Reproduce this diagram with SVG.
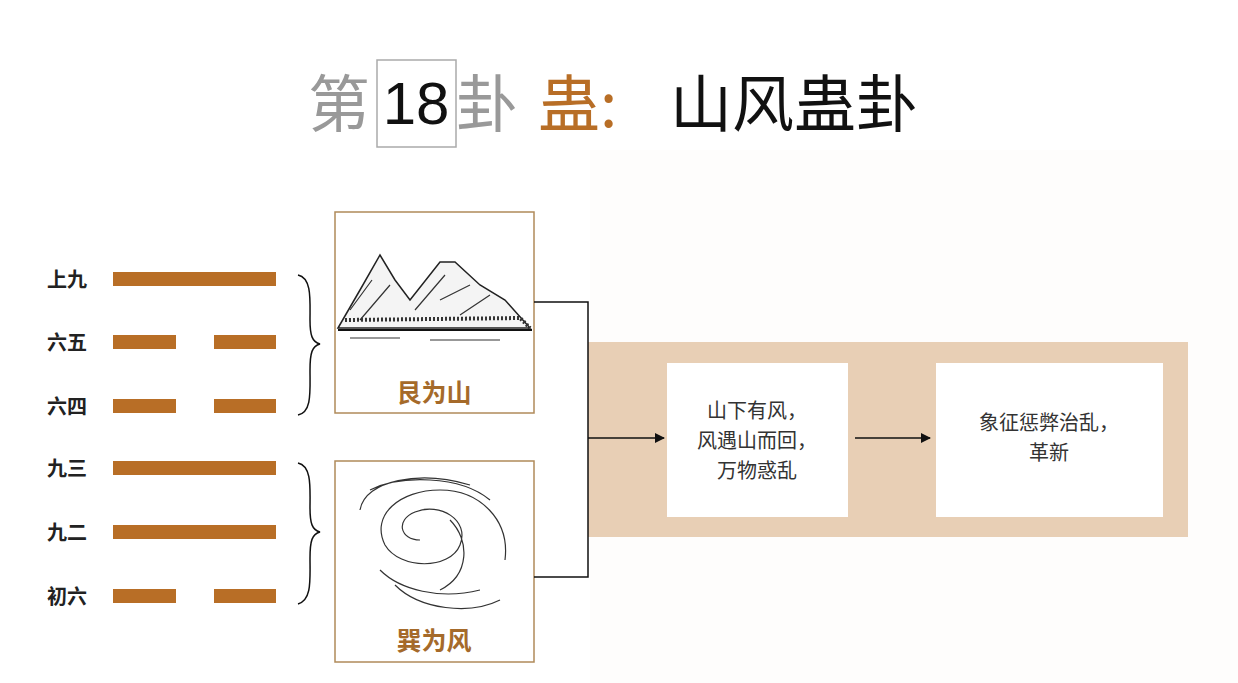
<svg xmlns="http://www.w3.org/2000/svg" width="1238" height="683" viewBox="0 0 1238 683">
<defs>
<style>
.t{font-family:"Noto Sans CJK SC","Liberation Sans",sans-serif}
.yao{fill:#b86e26}
.lab{font-size:20px;fill:#222;font-weight:bold}
.img{fill:#fff;stroke:#b08a5a;stroke-width:1.5}
.cap{font-size:25px;fill:#a56a2a;text-anchor:middle;font-weight:bold}
.box{fill:#fff}
.bt{font-size:20px;fill:#333;text-anchor:middle}
.ln{fill:none;stroke:#111;stroke-width:1.5}
.sk{fill:none;stroke:#333;stroke-width:1.2}
</style>
<marker id="ar" markerWidth="10" markerHeight="10" refX="9" refY="5" orient="auto" markerUnits="userSpaceOnUse"><path d="M0,0 L10,5 L0,10 Z" fill="#111"/></marker>
</defs>
<rect width="1238" height="683" fill="#fff"/>
<rect x="590" y="150" width="648" height="533" fill="#fefdfc"/>
<g id="title" class="t">
<text x="308" y="127" font-size="62" fill="#999">第</text>
<rect x="377" y="60" width="79" height="87" fill="none" stroke="#aaa" stroke-width="1.5"/>
<text x="416" y="124" font-size="60" fill="#111" text-anchor="middle" font-family="Liberation Sans,sans-serif">18</text>
<text x="456" y="127" font-size="62" fill="#999">卦</text>
<text x="538" y="127" font-size="62" fill="#b86e26">蛊:</text>
<text x="670" y="127" font-size="62" fill="#111">山风蛊卦</text>
</g>
<g id="hexagram" class="t">
<text x="47" y="287" class="lab">上九</text>
<rect x="113" y="272" width="163" height="14" class="yao"/>
<text x="47" y="350" class="lab">六五</text>
<rect x="113" y="335" width="63" height="14" class="yao"/><rect x="214" y="335" width="62" height="14" class="yao"/>
<text x="47" y="414" class="lab">六四</text>
<rect x="113" y="399" width="63" height="14" class="yao"/><rect x="214" y="399" width="62" height="14" class="yao"/>
<text x="47" y="476" class="lab">九三</text>
<rect x="113" y="461" width="163" height="14" class="yao"/>
<text x="47" y="540" class="lab">九二</text>
<rect x="113" y="525" width="163" height="14" class="yao"/>
<text x="47" y="604" class="lab">初六</text>
<rect x="113" y="589" width="63" height="14" class="yao"/><rect x="214" y="589" width="62" height="14" class="yao"/>
<path d="M298,275 C312,278 310,300 310,320 C310,335 312,342 320,344 C312,346 310,353 310,370 C310,392 312,412 298,415" class="ln"/>
<path d="M298,463 C312,466 310,488 310,508 C310,523 312,530 320,532 C312,534 310,541 310,558 C310,580 312,600 298,604" class="ln"/>
</g>
<g id="gen" class="t">
<rect x="335" y="212" width="199" height="201" class="img"/>
<path d="M338,328 L360,290 L380,255 L395,280 L410,300 L440,262 L455,262 L480,285 L505,300 L530,328 Z" fill="#f4f4f4" stroke="#222" stroke-width="1.5"/>
<path d="M350,310 L372,280 M360,320 L390,285 M415,310 L445,275 M440,300 L470,285 M460,315 L490,295" class="sk"/>
<path d="M345,320 L520,318 L530,328" fill="none" stroke="#333" stroke-width="4" stroke-dasharray="2 2"/>
<line x1="338" y1="330" x2="532" y2="330" stroke="#111" stroke-width="2"/>
<path d="M350,338 L400,338 M430,340 L500,340" class="sk"/>
<text x="434" y="402" class="cap">艮为山</text>
</g>
<g id="xun" class="t">
<rect x="335" y="461" width="199" height="201" class="img"/>
<path d="M420,540 C400,540 395,520 415,512 C440,502 470,520 460,545 C450,570 400,570 385,545 C370,515 400,490 440,490 C480,490 510,520 505,560 M370,490 C400,475 460,475 490,500 M360,510 C365,480 420,470 470,485 M380,570 C400,590 440,600 480,590 M395,585 C420,610 470,615 500,600 M450,520 C470,540 470,575 440,590" class="sk"/>
<text x="434" y="650" class="cap">巽为风</text>
</g>
<rect x="588" y="342" width="600" height="195" fill="#e8cfb5"/>
<g id="connectors">
<path d="M534,302 H588 V577 H534" class="ln"/>
<path d="M588,438 H664" class="ln" marker-end="url(#ar)"/>
<path d="M855,438 H930" class="ln" marker-end="url(#ar)"/>
</g>
<g id="box1" class="t">
<rect x="667" y="363" width="181" height="154" class="box"/>
<text x="757" y="418" class="bt">山下有风，</text>
<text x="757" y="448" class="bt">风遇山而回，</text>
<text x="757" y="478" class="bt">万物惑乱</text>
</g>
<g id="box2" class="t">
<rect x="936" y="363" width="227" height="154" class="box"/>
<text x="1049" y="430" class="bt">象征惩弊治乱，</text>
<text x="1049" y="460" class="bt">革新</text>
</g>
</svg>
